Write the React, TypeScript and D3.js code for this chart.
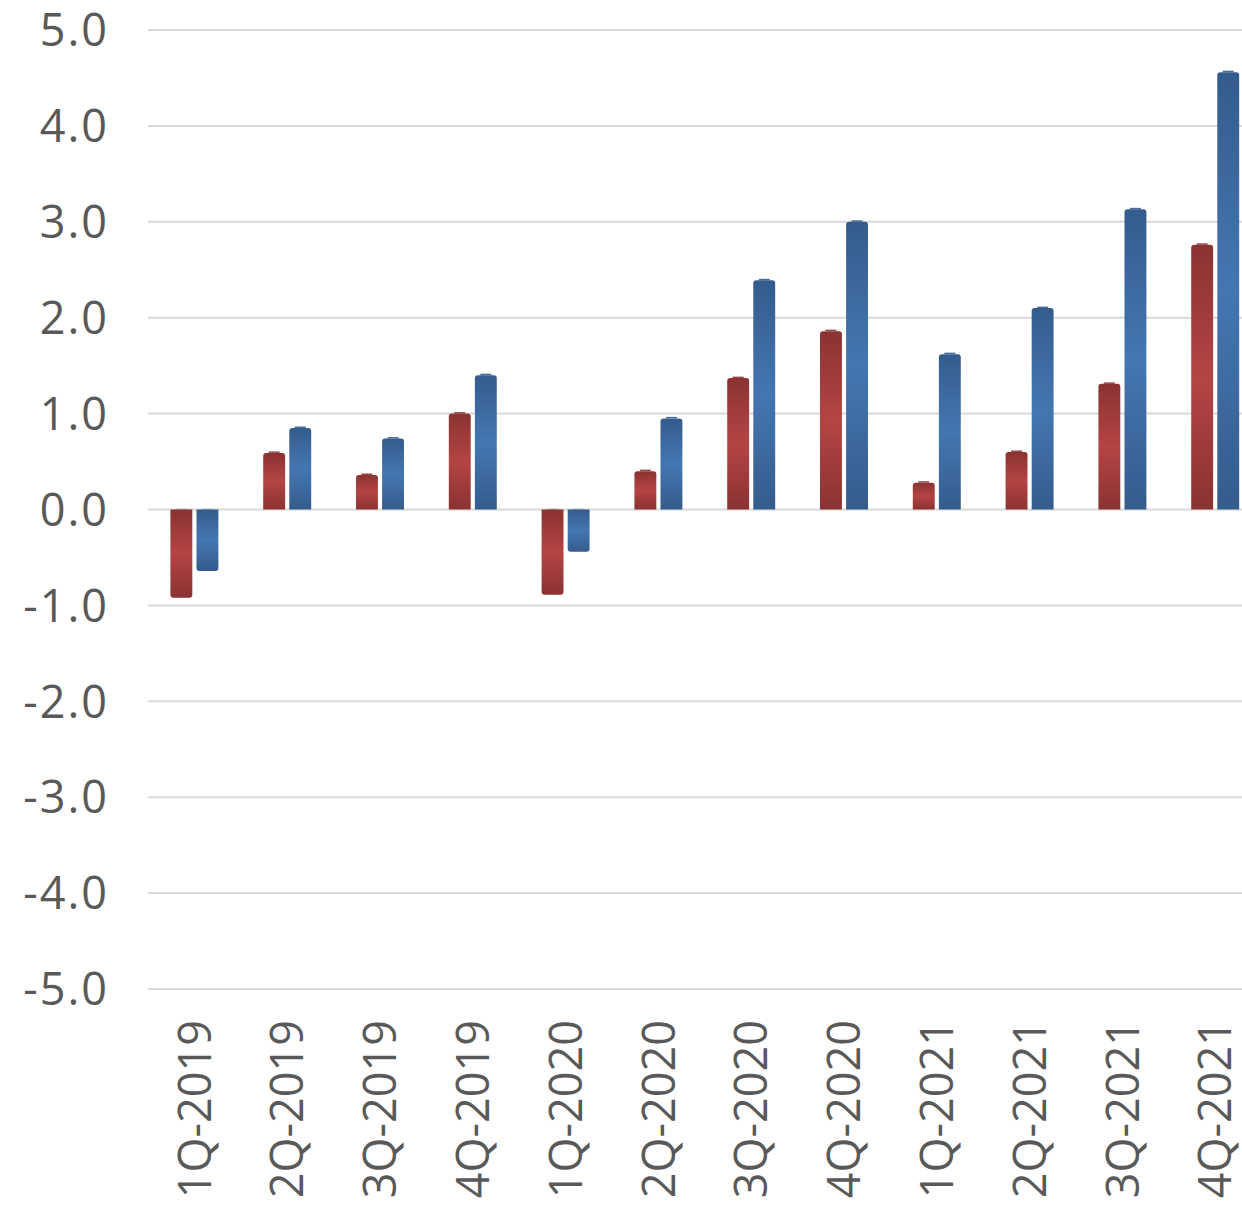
import * as d3 from 'd3';
import React, { useEffect, useRef } from 'react';

const categories = [
  '1Q-2019', '2Q-2019', '3Q-2019', '4Q-2019',
  '1Q-2020', '2Q-2020', '3Q-2020', '4Q-2020',
  '1Q-2021', '2Q-2021', '3Q-2021', '4Q-2021',
];
const redValues = [-0.92, 0.59, 0.36, 1.0, -0.89, 0.4, 1.37, 1.86, 0.28, 0.6, 1.31, 2.76];
const blueValues = [-0.64, 0.85, 0.74, 1.4, -0.44, 0.95, 2.39, 3.0, 1.62, 2.1, 3.13, 4.56];
const yTicks = [5, 4, 3, 2, 1, 0, -1, -2, -3, -4, -5];

const series = [
  { key: 'red', values: redValues, dark: '#8a3232', light: '#b54444' },
  { key: 'blue', values: blueValues, dark: '#345c8d', light: '#4576b2' },
];

const FONT = '"Open Sans", "Noto Sans", sans-serif';

const App = () => {
  const ref = useRef<SVGSVGElement | null>(null);

  const drawChart = () => {
    if (!ref.current) return;
    const svg = d3.select(ref.current);
    svg.selectAll('*').remove();

    const width = 1242;
    const height = 1224;
    const left = 148;
    const step = 92.8;
    svg.attr('width', width).attr('height', height);

    const y = d3.scaleLinear().domain([-5, 5]).range([989, 30]);
    const x0 = d3.scaleBand<string>()
      .domain(categories)
      .range([left, left + step * categories.length])
      .paddingInner(0.483)
      .paddingOuter(0.2415);
    const x1 = d3.scaleBand<string>()
      .domain(series.map((s) => s.key))
      .range([0, x0.bandwidth()])
      .paddingInner(0.16);

    const defs = svg.append('defs');
    series.forEach((s) => {
      const g = defs.append('linearGradient')
        .attr('id', `grad-${s.key}`)
        .attr('x1', 0).attr('y1', 0).attr('x2', 0).attr('y2', 1);
      g.append('stop').attr('offset', '0%').attr('stop-color', s.dark);
      g.append('stop').attr('offset', '50%').attr('stop-color', s.light);
      g.append('stop').attr('offset', '100%').attr('stop-color', s.dark);
    });

    // gridlines
    svg.append('g')
      .selectAll('line')
      .data(yTicks)
      .enter().append('line')
      .attr('x1', left).attr('x2', width)
      .attr('y1', (d) => y(d)).attr('y2', (d) => y(d))
      .attr('stroke', '#d9d9d9')
      .attr('stroke-width', 2);

    // y labels
    svg.append('g')
      .selectAll('text')
      .data(yTicks)
      .enter().append('text')
      .attr('x', 109)
      .attr('y', (d) => y(d))
      .attr('dy', '0.36em')
      .attr('text-anchor', 'end')
      .attr('fill', '#595959')
      .style('font-size', '45px')
      .style('letter-spacing', '2px')
      .style('font-family', FONT)
      .text((d) => d.toFixed(1));

    // bars
    const r = 3;
    series.forEach((s) => {
      const bw = x1.bandwidth();
      svg.append('g')
        .selectAll('path')
        .data(s.values.map((v, i) => ({ v, c: categories[i] })))
        .enter().append('path')
        .attr('fill', `url(#grad-${s.key})`)
        .attr('d', (d) => {
          const xa = (x0(d.c) as number) + (x1(s.key) as number);
          const xb = xa + bw;
          const y0 = y(0);
          const ye = y(d.v);
          if (d.v >= 0) {
            return `M${xa},${y0}V${ye + r}Q${xa},${ye} ${xa + r},${ye}H${xb - r}Q${xb},${ye} ${xb},${ye + r}V${y0}Z`;
          }
          return `M${xa},${y0}V${ye - r}Q${xa},${ye} ${xa + r},${ye}H${xb - r}Q${xb},${ye} ${xb},${ye - r}V${y0}Z`;
        });
      // small cap lip on the top
      svg.append('g')
        .selectAll('rect')
        .data(s.values.map((v, i) => ({ v, c: categories[i] })))
        .enter().append('rect')
        .attr('x', (d) => (x0(d.c) as number) + (x1(s.key) as number) + bw * 0.25)
        .attr('width', bw * 0.5)
        .attr('y', (d) => (d.v >= 0 ? y(d.v) - 1.5 : y(0) - 1))
        .attr('height', 1.5)
        .attr('fill', s.dark)
        .attr('opacity', (d) => (d.v >= 0 ? 0.9 : 0.25));
    });

    // x labels
    svg.append('g')
      .selectAll('text')
      .data(categories)
      .enter().append('text')
      .attr('transform', (d) => `translate(${(x0(d) as number) + x0.bandwidth() / 2},1020) rotate(-90)`)
      .attr('dy', '0.36em')
      .attr('text-anchor', 'end')
      .attr('fill', '#595959')
      .style('font-size', '45px')
      .style('font-family', FONT)
      .text((d) => d);
  };

  useEffect(() => {
    drawChart();
  }, []);

  return <svg ref={ref} style={{ position: 'absolute', left: 0, top: 0, display: 'block' }} />;
};

export default App;
